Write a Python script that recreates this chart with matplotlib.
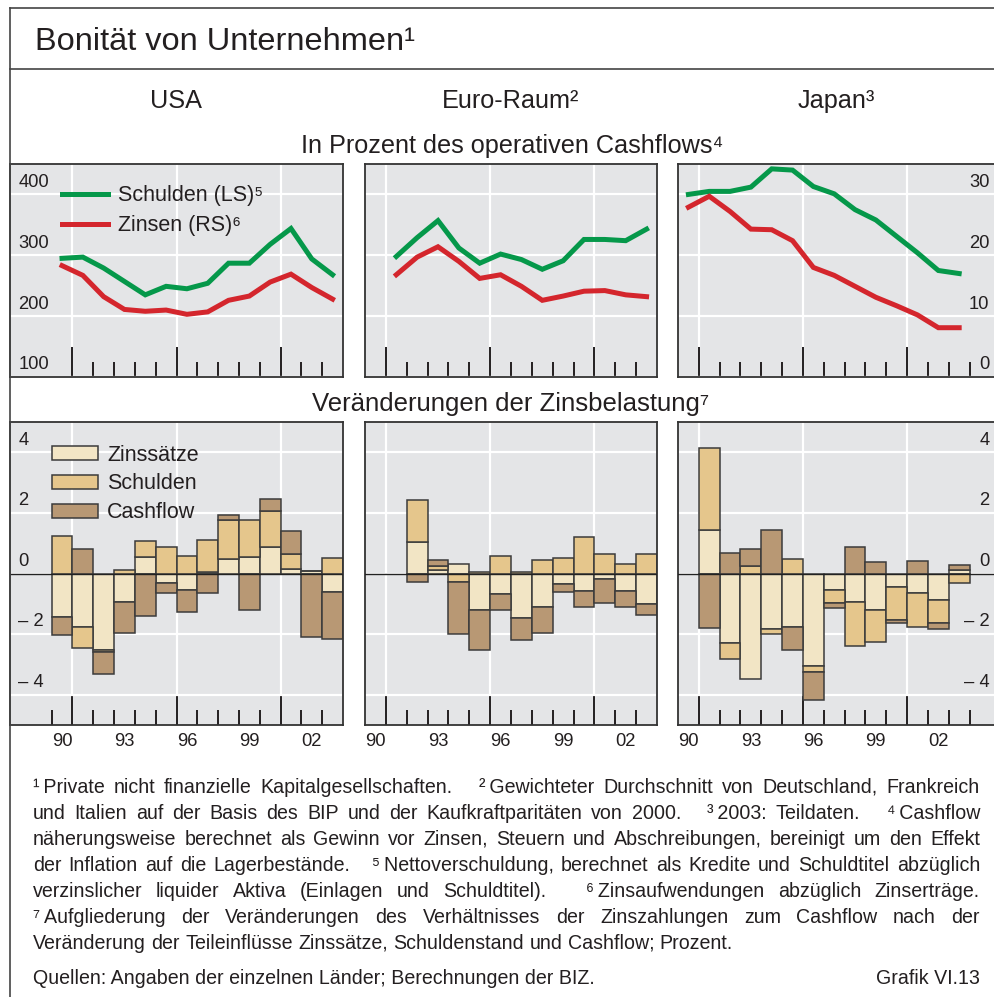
import numpy as np
import matplotlib
matplotlib.use('Agg')
import matplotlib.pyplot as plt
from matplotlib.lines import Line2D
from matplotlib.ticker import FixedLocator

plt.rcParams['font.family'] = ['Liberation Sans', 'DejaVu Sans']
plt.rcParams['text.color'] = '#231f20'

# ---- data: top row, in % of operating cash flow ----
usa_years = list(range(1990, 2004))
usa_debt = [295, 297, 279, 257, 235, 249, 245, 254, 287, 287, 318, 344, 294, 268]
usa_int = [18.3, 16.7, 13.2, 11.1, 10.8, 11.0, 10.3, 10.7, 12.6, 13.3, 15.6, 16.9, 14.7, 12.8]

euro_years = list(range(1991, 2004))
euro_debt = [298, 329, 357, 312, 287, 302, 293, 277, 291, 326, 326, 324, 343]
euro_int = [16.8, 19.7, 21.4, 19.0, 16.2, 16.8, 14.9, 12.6, 13.3, 14.1, 14.2, 13.5, 13.2]

jp_years = list(range(1990, 2004))
jp_debt = [400, 405, 405, 412, 442, 440, 413, 401, 375, 358, 331, 304, 275, 270]
jp_int = [27.9, 29.7, 27.2, 24.3, 24.2, 22.4, 18.0, 16.7, 14.9, 13.1, 11.7, 10.2, 8.1, 8.1]

# ---- data: bottom row, change in interest burden ----
usa_bar_years = list(range(1990, 2004))
usa_zins = [-1.44, -1.77, -2.52, -0.95, 0.53, -0.32, -0.54, 0.04, 0.48, 0.55, 0.88, 0.15, 0.08, -0.60]
usa_schul = [1.23, -0.69, -0.08, 0.13, 0.53, 0.87, 0.59, 1.07, 1.29, 1.21, 1.19, 0.51, 0.0, 0.51]
usa_cash = [-0.58, 0.82, -0.71, -1.02, -1.40, -0.33, -0.74, -0.65, 0.15, -1.22, 0.38, 0.73, -2.10, -1.56]

euro_bar_years = list(range(1992, 2004))
euro_zins = [1.03, 0.10, 0.30, -1.22, -0.69, -1.47, -1.12, -0.36, -0.59, -0.19, -0.58, -1.00]
euro_schul = [1.41, 0.15, -0.29, 0.06, 0.57, 0.06, 0.43, 0.52, 1.22, 0.65, 0.33, 0.64]
euro_cash = [-0.29, 0.20, -1.71, -1.32, -0.53, -0.71, -0.85, -0.24, -0.53, -0.78, -0.54, -0.38]

jp_bar_years = list(range(1991, 2004))
jp_zins = [1.42, -2.30, -3.47, -1.84, -1.77, -3.04, -0.56, -0.95, -1.21, -0.44, -0.65, -0.86, 0.11]
jp_schul = [2.71, -0.52, 0.26, -0.15, 0.47, -0.21, -0.40, -1.43, -1.05, -1.10, -1.10, -0.76, -0.33]
jp_cash = [-1.81, 0.67, 0.54, 1.42, -0.75, -0.93, -0.19, 0.88, 0.37, -0.11, 0.40, -0.20, 0.17]

year_labels = ['90', '93', '96', '99', '02']
year_label_pos = [1990, 1993, 1996, 1999, 2002]

notes = [
  ('¹\u2009Private nicht finanzielle Kapitalgesellschaften. ²\u2009Gewichteter Durchschnitt von Deutschland, Frankreich', True),
  ('und Italien auf der Basis des BIP und der Kaufkraftparitäten von 2000. ³\u20092003: Teildaten. ⁴\u2009Cashflow', True),
  ('näherungsweise berechnet als Gewinn vor Zinsen, Steuern und Abschreibungen, bereinigt um den Effekt', True),
  ('der Inflation auf die Lagerbestände. ⁵\u2009Nettoverschuldung, berechnet als Kredite und Schuldtitel abzüglich', True),
  ('verzinslicher liquider Aktiva (Einlagen und Schuldtitel). ⁶\u2009Zinsaufwendungen abzüglich Zinserträge.', True),
  ('⁷\u2009Aufgliederung der Veränderungen des Verhältnisses der Zinszahlungen zum Cashflow nach der', True),
  ('Veränderung der Teileinflüsse Zinssätze, Schuldenstand und Cashflow; Prozent.', False),
]

BG = '#e4e5e7'
GREEN = '#05984a'
RED = '#d4262d'
C_ZINS = '#f2e5c5'
C_SCHUL = '#e5c68c'
C_CASH = '#b89874'
EDGE = '#3b3b3b'
INK = '#231f20'
SUP = '¹²³⁴⁵⁶⁷'

W, H = 995, 997
fig = plt.figure(figsize=(W / 100, H / 100), dpi=100)


def rect(x0, y0, x1, y1):
  return [x0 / W, 1 - y1 / H, (x1 - x0) / W, (y1 - y0) / H]


def fig_text(x, y, s, **kw):
  return fig.text(x / W, 1 - y / H, s, **kw)


def style_axes(ax, xlim, minor_years):
  ax.set_facecolor(BG)
  ax.set_xlim(*xlim)
  ax.set_xticks([1991, 1996, 2001])
  ax.xaxis.set_minor_locator(FixedLocator(minor_years))
  ax.tick_params(axis='x', which='major', direction='in', length=21.6, width=1.4,
                 color=INK, labelbottom=False)
  ax.tick_params(axis='x', which='minor', direction='in', length=10.8, width=1.4, color=INK)
  ax.tick_params(axis='y', length=0, labelleft=False)
  ax.grid(True, which='major', color='white', lw=1.6)
  ax.set_axisbelow(True)
  for s in ax.spines.values():
    s.set_color('#333333')
    s.set_linewidth(1.3)


def ylab(ax, v, text, side):
  if side == 'left':
    ax.annotate(text, (0, v), xycoords=('axes fraction', 'data'), xytext=(6, 5.5),
                textcoords='offset points', fontsize=13.2, ha='left', va='baseline')
  else:
    ax.annotate(text, (1, v), xycoords=('axes fraction', 'data'), xytext=(-4, 5.5),
                textcoords='offset points', fontsize=13.2, ha='right', va='baseline')


def top_panel(box, years, debt, intr, xlim, minor_years, left_lab=False, right_lab=False, legend=False):
  ax = fig.add_axes(rect(*box))
  style_axes(ax, xlim, minor_years)
  ax.set_ylim(100, 450)
  ax.set_yticks([100, 200, 300, 400])
  ax2 = ax.twinx()
  ax2.set_ylim(0, 35)
  ax2.set_yticks([])
  for s in ax2.spines.values():
    s.set_visible(False)

  x = np.array(years) + 0.5
  l1, = ax.plot(x, debt, color=GREEN, lw=3.6, solid_joinstyle='miter')
  l2, = ax2.plot(x, intr, color=RED, lw=3.6, solid_joinstyle='miter')

  if left_lab:
    for v in [100, 200, 300, 400]:
      ylab(ax, v, str(v), 'left')
  if right_lab:
    for v in [0, 10, 20, 30]:
      ylab(ax2, v, str(v), 'right')
  if legend:
    ax2.legend([l1, l2], ['Schulden (LS)⁵', 'Zinsen (RS)⁶'], loc='upper left',
               bbox_to_anchor=(0.156, 0.9), frameon=False, fontsize=15.5,
               handlelength=2.15, handletextpad=0.45, labelspacing=0.42,
               borderpad=0, borderaxespad=0)
  return ax


def bottom_panel(box, years, zins, schul, cash, xlim, minor_years, left_lab=False, right_lab=False, legend=False):
  ax = fig.add_axes(rect(*box))
  style_axes(ax, xlim, minor_years)
  ax.set_ylim(-5, 5)
  ax.set_yticks([-4, -2, 0, 2, 4])

  x = np.array(years) + 0.5
  pos = np.zeros(len(years))
  neg = np.zeros(len(years))
  for vals, col, lab in [(zins, C_ZINS, 'Zinssätze'), (schul, C_SCHUL, 'Schulden'),
                         (cash, C_CASH, 'Cashflow')]:
    vals = np.array(vals)
    base = np.where(vals >= 0, pos, neg)
    ax.bar(x, vals, width=1.0, bottom=base, color=col, edgecolor=EDGE, linewidth=1.1, label=lab)
    pos += np.clip(vals, 0, None)
    neg += np.clip(vals, None, 0)
  ax.axhline(0, color='#222222', lw=1.0, zorder=3)

  for yr, lab in zip(year_label_pos, year_labels):
    ax.annotate(lab, (yr + 0.5, 0), xycoords=ax.get_xaxis_transform(), xytext=(0, -5.5),
                textcoords='offset points', fontsize=13.2, ha='center', va='top')

  ticks = {4: '4', 2: '2', 0: '0', -2: '\u2013 2', -4: '\u2013 4'}
  for v, t in ticks.items():
    if left_lab:
      ylab(ax, v, t, 'left')
    if right_lab:
      ylab(ax, v, t, 'right')
  if legend:
    ax.legend(loc='upper left', bbox_to_anchor=(0.126, 0.925), frameon=False, fontsize=15.5,
              handlelength=2.15, handleheight=0.62, handletextpad=0.42, labelspacing=0.36,
              borderpad=0, borderaxespad=0)
  return ax


# ---- panels ----
top_panel((10, 164, 343, 377), usa_years, usa_debt, usa_int, (1988, 2004),
          range(1991, 2004), left_lab=True, legend=True)
top_panel((365, 164, 657, 377), euro_years, euro_debt, euro_int, (1990, 2004),
          range(1991, 2004))
top_panel((678, 164, 995, 377), jp_years, jp_debt, jp_int, (1990, 2005.22),
          range(1991, 2005), right_lab=True)

bottom_panel((10, 422, 343, 725), usa_bar_years, usa_zins, usa_schul, usa_cash, (1988, 2004),
             range(1990, 2004), left_lab=True, legend=True)
bottom_panel((365, 422, 657, 725), euro_bar_years, euro_zins, euro_schul, euro_cash, (1990, 2004),
             range(1991, 2004))
bottom_panel((678, 422, 995, 725), jp_bar_years, jp_zins, jp_schul, jp_cash, (1990, 2005.22),
             range(1991, 2005), right_lab=True)

# ---- frame and headings ----
for xs, ys in [((10, 995), (8, 8)), ((10, 10), (8, 997)), ((10, 995), (69.5, 69.5))]:
  fig.add_artist(Line2D([x / W for x in xs], [1 - y / H for y in ys], color='#444444', lw=1.2))

fig_text(35, 50, 'Bonität von Unternehmen¹', fontsize=23.4, va='baseline')
fig_text(176.5, 108, 'USA', fontsize=18.2, ha='center', va='baseline')
fig_text(511, 108, 'Euro-Raum²', fontsize=18.2, ha='center', va='baseline')
fig_text(836.5, 108, 'Japan³', fontsize=18.2, ha='center', va='baseline')
fig_text(512, 153, 'In Prozent des operativen Cashflows⁴', fontsize=18.2, ha='center', va='baseline')
fig_text(511, 411, 'Veränderungen der Zinsbelastung⁷', fontsize=18.5, ha='center', va='baseline')

# ---- footnotes, justified word by word ----
NOTE_FS = 14.1
NOTE_L, NOTE_R = 33, 980
renderer = fig.canvas.get_renderer()
space = NOTE_FS * 100 / 72 * 0.278


def word(x, base, s):
  t = fig_text(x, base, s, fontsize=NOTE_FS, va='baseline')
  # keep every word on the same pixel baseline after agg rounds the glyph bitmap
  _, h, d = renderer.get_text_width_height_descent(s, t.get_fontproperties(), ismath=False)
  yb = base + np.floor(h) - np.floor(h - d) - d
  t.set_y(1 - yb / H)
  return t


y = 793
for line, full in notes:
  words = line.split(' ')
  texts = [word(0, y, w) for w in words]
  widths = [t.get_window_extent(renderer).width for t in texts]
  weights = [3.0 if w[0] in SUP else 1.0 for w in words[1:]]
  unit = (NOTE_R - NOTE_L - sum(widths)) / sum(weights) if full else space
  x = NOTE_L
  for i, t in enumerate(texts):
    if i > 0:
      x += weights[i - 1] * unit
    t.set_x(x / W)
    x += widths[i]
  y += 26

fig_text(NOTE_L, 984, 'Quellen: Angaben der einzelnen Länder; Berechnungen der BIZ.', fontsize=NOTE_FS, va='baseline')
fig_text(NOTE_R, 984, 'Grafik VI.13', fontsize=NOTE_FS, ha='right', va='baseline')

fig.savefig('out.png', dpi=100)
